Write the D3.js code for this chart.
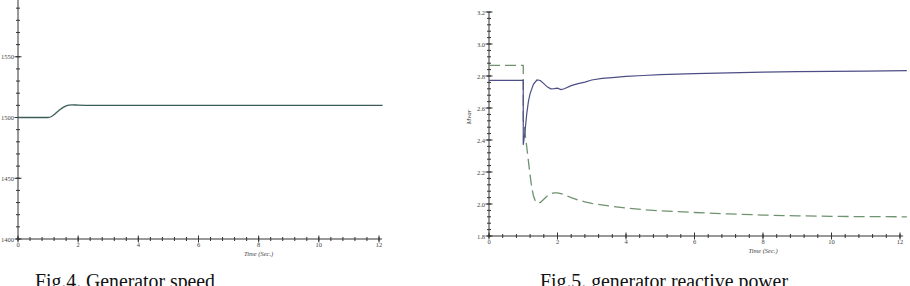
<!DOCTYPE html>
<html>
<head>
<meta charset="utf-8">
<script src="https://cdn.jsdelivr.net/npm/d3@7"></script>
<style>
  body { margin: 0; background: #fff; }
  svg { display: block; }
  text { font-family: "Liberation Serif", "DejaVu Serif", serif; }
</style>
</head>
<body>
<svg width="910" height="286"></svg>
<script>
// Fig.4 generator speed
var speedT = [0, 1.0, 1.1, 1.2, 1.3, 1.4, 1.5, 1.6, 1.7, 1.8, 2.0, 2.5, 3, 12.12];
var speedV = [1500, 1500, 1500.6, 1502.3, 1504.5, 1506.6, 1508.3, 1509.5, 1510.2, 1510.4, 1510.2, 1510, 1510, 1510];
var speedTicks = [1400, 1450, 1500, 1550];

// Fig.5 generator reactive power (solid and dashed)
var qT1 = [0, 1.0, 1.0, 1.05, 1.1, 1.15, 1.2, 1.3, 1.4, 1.5, 1.6, 1.7, 1.8, 1.9, 2.0, 2.1, 2.2, 2.4, 2.6, 2.8, 3.0, 3.3, 3.6, 4.0, 4.5, 5, 6, 7, 8, 9, 10, 11, 12.2];
var qV1 = [2.773, 2.773, 2.37, 2.45, 2.56, 2.64, 2.69, 2.75, 2.775, 2.772, 2.752, 2.732, 2.72, 2.721, 2.724, 2.715, 2.72, 2.74, 2.752, 2.762, 2.775, 2.785, 2.79, 2.798, 2.803, 2.808, 2.815, 2.82, 2.824, 2.827, 2.829, 2.831, 2.833];
var qT2 = [0, 1.0, 1.0, 1.05, 1.1, 1.15, 1.2, 1.25, 1.3, 1.35, 1.4, 1.45, 1.5, 1.6, 1.7, 1.8, 1.9, 2.0, 2.1, 2.2, 2.4, 2.6, 2.8, 3.0, 3.5, 4, 4.5, 5, 6, 7, 8, 9, 10, 11, 12.2];
var qV2 = [2.867, 2.867, 2.52, 2.45, 2.36, 2.27, 2.18, 2.10, 2.05, 2.02, 2.006, 2.005, 2.01, 2.03, 2.05, 2.063, 2.07, 2.07, 2.065, 2.058, 2.04, 2.025, 2.013, 2.004, 1.988, 1.975, 1.965, 1.957, 1.947, 1.938, 1.931, 1.926, 1.923, 1.921, 1.92];
var qTicks = ["1.8", "2.0", "2.2", "2.4", "2.6", "2.8", "3.0", "3.2"];

var timeTicks = [0, 2, 4, 6, 8, 10, 12];
var captions = ["Fig.4. Generator speed", "Fig.5. generator reactive power"];

var svg = d3.select("svg");

// draws axes with ticks crossing the line, like the original plots
function drawAxes(g, x, y, xMajor, xMinorStep, yMajor, yMinorStep) {
	var x0 = x.range()[0], y0 = y.range()[0];
	var xd = x.domain(), yd = y.domain();

	g.append("line").attr("x1", x0).attr("x2", x.range()[1] + 3)
		.attr("y1", y0).attr("y2", y0).attr("stroke", "#333").attr("stroke-width", 1);
	g.append("line").attr("x1", x0).attr("x2", x0)
		.attr("y1", y0).attr("y2", y.range()[1]).attr("stroke", "#333").attr("stroke-width", 1);

	var xMinor = d3.range(xd[0], xd[1] + 0.001, xMinorStep);
	g.selectAll(".xt").data(xMinor).enter().append("line")
		.attr("x1", d => x(d)).attr("x2", d => x(d))
		.attr("y1", y0 - 2).attr("y2", y0 + 2)
		.attr("stroke", "#333").attr("stroke-width", 1);
	g.selectAll(".xT").data(xMajor).enter().append("line")
		.attr("x1", d => x(d)).attr("x2", d => x(d))
		.attr("y1", y0 - 3.5).attr("y2", y0 + 3.5)
		.attr("stroke", "#333").attr("stroke-width", 1);
	g.selectAll(".xl").data(xMajor).enter().append("text")
		.attr("x", d => x(d)).attr("y", y0 + 8)
		.attr("text-anchor", "middle").attr("font-size", 6.5).attr("fill", "#444")
		.text(d => d);

	var yMinor = d3.range(yd[0], yd[1] + 1e-6, yMinorStep);
	g.selectAll(".yt").data(yMinor).enter().append("line")
		.attr("x1", x0 - 2).attr("x2", x0 + 2)
		.attr("y1", d => y(d)).attr("y2", d => y(d))
		.attr("stroke", "#333").attr("stroke-width", 1);
	g.selectAll(".yT").data(yMajor).enter().append("line")
		.attr("x1", x0 - 3.5).attr("x2", x0 + 3.5)
		.attr("y1", d => y(+d)).attr("y2", d => y(+d))
		.attr("stroke", "#333").attr("stroke-width", 1);
	g.selectAll(".yl").data(yMajor).enter().append("text")
		.attr("x", x0 - 4).attr("y", d => y(+d) + 2.5)
		.attr("text-anchor", "end").attr("font-size", 6.5).attr("fill", "#444")
		.text(d => d);
}

// ---- left chart
var x1 = d3.scaleLinear().domain([0, 12]).range([18, 379]);
var y1 = d3.scaleLinear().domain([1400, 1600]).range([239, -4]);
var g1 = svg.append("g");
drawAxes(g1, x1, y1, timeTicks, 0.4, speedTicks, 10);

g1.append("text").attr("x", x1(8)).attr("y", 256).attr("text-anchor", "middle")
	.attr("font-size", 6.5).attr("font-style", "italic").attr("fill", "#444").text("Time (Sec.)");

var line1 = d3.line().x((d, i) => x1(speedT[i])).y(d => y1(d)).curve(d3.curveMonotoneX);
g1.append("path").datum(speedV).attr("d", line1)
	.attr("fill", "none").attr("stroke", "#3b5e5a").attr("stroke-width", 1.3);

// ---- right chart
var x2 = d3.scaleLinear().domain([0, 12]).range([489, 900]);
var y2 = d3.scaleLinear().domain([1.8, 3.2]).range([236, 12]);
var g2 = svg.append("g");
drawAxes(g2, x2, y2, timeTicks, 0.4, qTicks, 0.04);

g2.append("text").attr("x", x2(8)).attr("y", 253).attr("text-anchor", "middle")
	.attr("font-size", 6.5).attr("font-style", "italic").attr("fill", "#444").text("Time (Sec.)");
g2.append("text").attr("transform", "translate(471,117) rotate(-90)").attr("text-anchor", "middle")
	.attr("font-size", 7).attr("font-style", "italic").attr("fill", "#444").text("Mvar");

var lineA = d3.line().x((d, i) => x2(qT1[i])).y(d => y2(d));
var lineB = d3.line().x((d, i) => x2(qT2[i])).y(d => y2(d));
g2.append("path").datum(qV2).attr("d", lineB)
	.attr("fill", "none").attr("stroke", "#6f9270").attr("stroke-width", 1.3)
	.attr("stroke-dasharray", "11,5");
g2.append("path").datum(qV1).attr("d", lineA)
	.attr("fill", "none").attr("stroke", "#4c4f86").attr("stroke-width", 1.2);

// ---- captions (cut by the bottom edge, as in the source image)
svg.append("text").attr("x", 35).attr("y", 288).attr("font-size", 20)
	.attr("textLength", 180).attr("lengthAdjust", "spacingAndGlyphs").attr("fill", "#111")
	.text(captions[0]);
svg.append("text").attr("x", 540).attr("y", 288).attr("font-size", 20)
	.attr("textLength", 248).attr("lengthAdjust", "spacingAndGlyphs").attr("fill", "#111")
	.text(captions[1]);
</script>
</body>
</html>
